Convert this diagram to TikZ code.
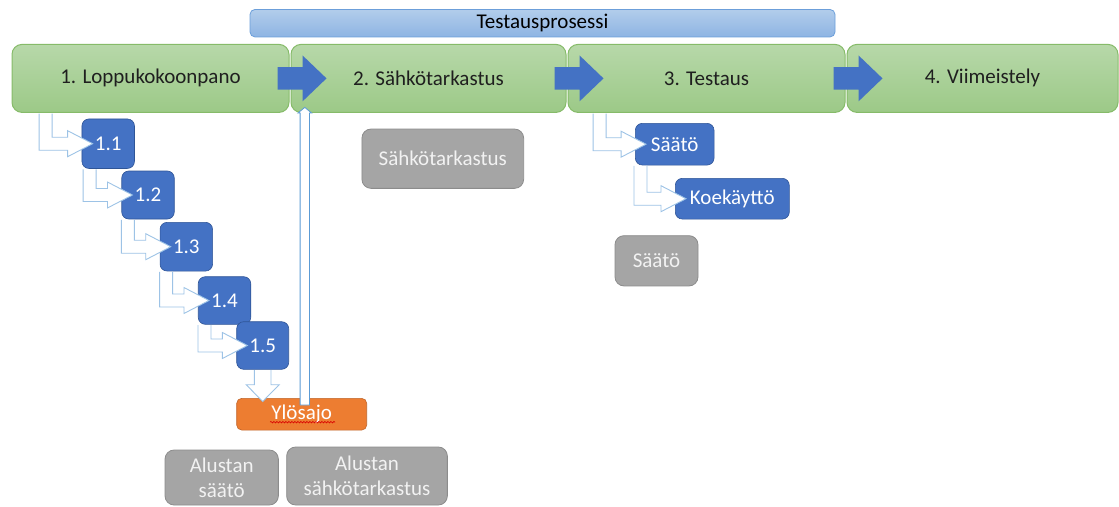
\documentclass[tikz,border=0pt]{standalone}
\usepackage{fontspec}
\setmainfont{Carlito}
\usetikzlibrary{calc,decorations.pathmorphing}

\definecolor{phasetop}{HTML}{B7D8A9}
\definecolor{phasebot}{HTML}{9CC987}
\definecolor{phaseline}{HTML}{86BB69}
\definecolor{bartop}{HTML}{B2CDEB}
\definecolor{barbot}{HTML}{8EB4E3}
\definecolor{barline}{HTML}{6C9FDA}
\definecolor{stepblue}{HTML}{4472C4}
\definecolor{stepline}{HTML}{2F5597}
\definecolor{greyfill}{HTML}{A5A5A5}
\definecolor{greyline}{HTML}{8C8C8C}
\definecolor{orangefill}{HTML}{ED7D31}
\definecolor{orangeline}{HTML}{C0652A}
\definecolor{lightline}{HTML}{9DC3E6}
\definecolor{upline}{HTML}{5B9BD5}

% hollow elbow arrow from the bottom of #1 into the left side of #2;
% #3 = distance of the outer rail left of #2's west side
\newcommand\bentarrow[3]{%
  \path[bent] let \p1=(#2.west), \p2=(#1.south) in
    (\x1-#3pt+13pt,\y2-0.6pt) -- (\x1-#3pt+13pt,\y1+6.5pt) -- (\x1-14pt,\y1+6.5pt)
    -- (\x1-14pt,\y1+13pt) -- (\x1+11pt,\y1) -- (\x1-14pt,\y1-13pt)
    -- (\x1-14pt,\y1-6.5pt) -- (\x1-#3pt,\y1-6.5pt) -- (\x1-#3pt,\y2-0.6pt);}

% solid block arrow between two neighbouring phases
\newcommand\phasearrow[2]{%
  \path[fill=stepblue] let \p1=(#1.east), \p2=(#2.west) in
    (\x1-12pt,\y1+11.3pt) -- (\x2+12pt,\y1+11.3pt) -- (\x2+12pt,\y1+23pt)
    -- (\x2+36pt,\y1) -- (\x2+12pt,\y1-23pt) -- (\x2+12pt,\y1-11.3pt)
    -- (\x1-12pt,\y1-11.3pt) -- cycle;}

\begin{document}
\begin{tikzpicture}[x=1pt,y=-1pt,
  every node/.style={font=\fontsize{21}{25}\selectfont, inner sep=0pt},
  phase/.style={rectangle, rounded corners=10pt, draw=phaseline, line width=1pt,
    top color=phasetop, bottom color=phasebot, minimum height=68pt, text=black!88},
  procbar/.style={rectangle, rounded corners=5pt, draw=barline, line width=0.8pt,
    top color=bartop, bottom color=barbot, text=black},
  substep/.style={rectangle, rounded corners=7pt, draw=stepline, line width=0.6pt,
    fill=stepblue, text=white},
  greybox/.style={rectangle, rounded corners=9pt, draw=greyline, line width=0.8pt,
    fill=greyfill, text=white!95!black, align=center},
  runbox/.style={rectangle, rounded corners=5pt, draw=orangeline, line width=0.6pt,
    fill=orangefill, text=white},
  bent/.style={fill=white, draw=lightline, line width=0.9pt},
]
\useasboundingbox (0,0) rectangle (1119,506);

% phases
\node[phase, minimum width=277pt] (p1) at (150.5,78.4) {1. Loppukokoonpano};
\node[phase, minimum width=275pt] (p2) at (428.5,78.4) {2. Sähkötarkastus};
\node[phase, minimum width=277pt] (p3) at (706.5,78.4) {3. Testaus};
\node[phase, minimum width=271pt] (p4) at (982.5,78.4) {4. Viimeistely};

% process title
\node[procbar, minimum width=585pt, minimum height=27.5pt] (bar) at (542.5,23.2) {Testausprosessi};

% grey boxes
\node[greybox, minimum width=161.7pt, minimum height=59.3pt] (g1) at (442.8,158.7) {Sähkötarkastus};
\node[greybox, minimum width=83pt, minimum height=50.3pt] (g2) at (656.5,260.8) {Säätö};
\node[greybox, minimum width=113.3pt, minimum height=55pt] (g3) at (221.7,477.5) {Alustan\\säätö};
\node[greybox, minimum width=160.7pt, minimum height=58pt] (g4) at (367,476) {Alustan\\sähkötarkastus};

% sub steps of phase 1
\node[substep, minimum width=52.5pt, minimum height=49.5pt] (s1) at (108.2,143.7) {1.1};
\node[substep, minimum width=52.5pt, minimum height=48pt] (s2) at (148,195) {1.2};
\node[substep, minimum width=52.5pt, minimum height=48.7pt] (s3) at (186.3,246.7) {1.3};
\node[substep, minimum width=52.5pt, minimum height=47.6pt] (s4) at (224.5,300.5) {1.4};
\node[substep, minimum width=52pt, minimum height=47.6pt] (s5) at (262.7,345.5) {1.5};

% sub steps of phase 3
\node[substep, minimum width=78.7pt, minimum height=41.7pt] (t1) at (674.7,144.2) {Säätö};
\node[substep, minimum width=114pt, minimum height=40.7pt] (t2) at (732.3,198.7) {Koekäyttö};

% run-up box
\node[runbox, minimum width=130pt, minimum height=31.7pt] (ylos) at (301.7,414.2) {Ylösajo};
\draw[color=red!85!black, line width=0.6pt, decorate,
  decoration={snake, amplitude=0.8pt, segment length=3pt}]
  ($(ylos.center)+(-31.7,8)$) -- ($(ylos.center)+(33.3,8)$);

% elbow connectors
\bentarrow{p1}{s1}{42.5}
\bentarrow{s1}{s2}{38.4}
\bentarrow{s2}{s3}{38.4}
\bentarrow{s3}{s4}{38.4}
\bentarrow{s4}{s5}{38.4}
\bentarrow{p3}{t1}{42}
\bentarrow{t1}{t2}{41}

% 1.5 down to run-up
\path[bent] let \p1=(s5.south), \p2=(ylos.north) in
  (\x1+8.3pt,\y1-0.6pt) -- (\x1+8.3pt,\y2+13.3pt) -- (\x1+16.5pt,\y2+13.3pt)
  -- (\x1,\y2-3.4pt) -- (\x1-16.5pt,\y2+13.3pt) -- (\x1-8.3pt,\y2+13.3pt)
  -- (\x1-8.3pt,\y1-0.6pt);

% run-up back to phase 2
\path[fill=white, draw=upline, line width=0.8pt] let \p1=(ylos.north), \p2=(p2.south west) in
  (\x2+9.6pt,\y1-7pt) -- (\x2+9.6pt,\y2) -- (\x2+7.6pt,\y2) -- (\x2+14.3pt,\y2+5.5pt)
  -- (\x2+21pt,\y2) -- (\x2+19pt,\y2) -- (\x2+19pt,\y1-7pt) -- cycle;

% arrows between phases
\phasearrow{p1}{p2}
\phasearrow{p2}{p3}
\phasearrow{p3}{p4}
\end{tikzpicture}
\end{document}
